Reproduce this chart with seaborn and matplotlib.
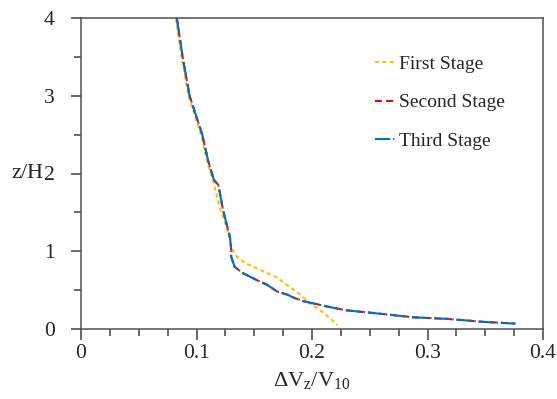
import numpy as np
import pandas as pd
import seaborn as sns
import matplotlib.pyplot as plt
from matplotlib.ticker import MultipleLocator, FuncFormatter

# Profiles (z/H vs dVz/V10)
z_first = [4.0, 3.5, 3.0, 2.5, 2.17, 1.92, 1.57, 1.31, 1.14, 1.02, 0.93, 0.85, 0.76,
           0.66, 0.57, 0.44, 0.33, 0.21, 0.08, 0.05]
v_first = [0.082, 0.087, 0.093, 0.104, 0.109, 0.114, 0.120, 0.126, 0.129, 0.131, 0.135,
           0.142, 0.155, 0.170, 0.178, 0.190, 0.198, 0.210, 0.220, 0.222]

z_second = [4.0, 3.5, 3.0, 2.5, 2.17, 1.92, 1.85, 1.53, 1.18, 1.02, 0.93, 0.80, 0.72,
            0.63, 0.57, 0.48, 0.44, 0.41, 0.36, 0.33, 0.28, 0.24, 0.21, 0.19, 0.15,
            0.13, 0.09, 0.07]
v_second = [0.083, 0.088, 0.094, 0.105, 0.110, 0.115, 0.119, 0.123, 0.129, 0.130, 0.130,
            0.133, 0.140, 0.152, 0.161, 0.170, 0.179, 0.183, 0.192, 0.201, 0.216, 0.230,
            0.250, 0.263, 0.288, 0.317, 0.350, 0.376]

z_third = list(z_second)
v_third = list(v_second)

stage_labels = ['First Stage', 'Second Stage', 'Third Stage']
stage_colors = ['#FFC000', '#FF0000', '#0070C0']

sns.set_theme(style='ticks')
plt.rcParams['font.family'] = ['Liberation Serif', 'DejaVu Serif']
plt.rcParams['mathtext.fontset'] = 'custom'
plt.rcParams['mathtext.rm'] = 'Liberation Serif'
plt.rcParams['mathtext.it'] = 'Liberation Serif'
plt.rcParams['lines.scale_dashes'] = False

fig = plt.figure(figsize=(5.57, 3.99), dpi=100)
ax = fig.add_axes([81 / 557, 70 / 399, 462 / 557, 311 / 399])

styles = [(0, (3, 2.2)), (0, (5, 3)), (0, (11, 2, 1, 2))]
series = [(v_first, z_first), (v_second, z_second), (v_third, z_third)]

for (v, z), lab, col, ls in zip(series, stage_labels, stage_colors, styles):
    df = pd.DataFrame({'v': v, 'z': z})
    sns.lineplot(data=df, x='v', y='z', orient='y', sort=False, estimator=None,
                 color=col, linewidth=1.5, linestyle=ls, label=lab, ax=ax)

ax.set_xlim(0, 0.4)
ax.set_ylim(0, 4)
ax.xaxis.set_major_locator(MultipleLocator(0.1))
ax.xaxis.set_minor_locator(MultipleLocator(0.025))
ax.yaxis.set_major_locator(MultipleLocator(1))
ax.yaxis.set_minor_locator(MultipleLocator(0.5))
ax.xaxis.set_major_formatter(FuncFormatter(lambda x, p: f'{x:g}'))
ax.yaxis.set_major_formatter(FuncFormatter(lambda y, p: f'{y:g}'))

ax.tick_params(axis='x', which='major', length=8, width=1.1, color='#404040',
               labelsize=15.5, pad=3)
ax.tick_params(axis='x', which='minor', length=5, width=1.1, color='#404040')
ax.tick_params(axis='y', which='major', length=7, width=1.1, color='#404040',
               labelsize=15.5, pad=12)
ax.tick_params(axis='y', which='minor', length=5, width=1.1, color='#404040')

for side in ['left', 'bottom', 'top', 'right']:
    ax.spines[side].set_visible(True)
    ax.spines[side].set_color('#505050')
    ax.spines[side].set_linewidth(1.1)

ax.set_ylabel('z/H', fontsize=16, rotation=0, ha='center', va='center')
ax.yaxis.set_label_coords(-0.115, 0.5)
ax.set_xlabel('$\\mathrm{ΔV_z/V_{10}}$', fontsize=16, labelpad=5)

ax.legend(loc='upper left', bbox_to_anchor=(0.636, 0.879), frameon=False,
          fontsize=14, handlelength=1.05, handletextpad=0.2, labelspacing=1.06,
          borderpad=0, borderaxespad=0)

fig.savefig('out.png', dpi=100)
